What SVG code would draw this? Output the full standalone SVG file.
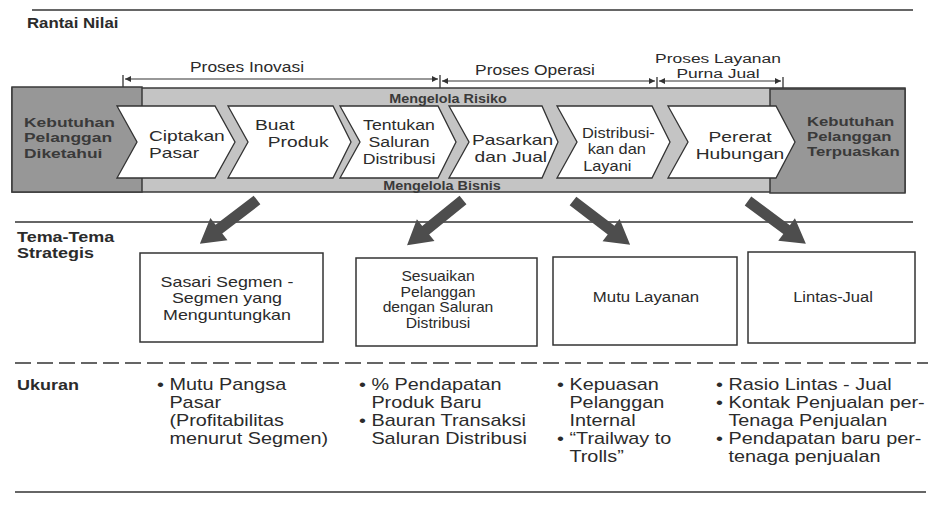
<svg xmlns="http://www.w3.org/2000/svg" xmlns:xlink="http://www.w3.org/1999/xlink" width="935" height="518" viewBox="0 0 935 518">
<style>
.t{font-family:"Liberation Sans",Arial,Helvetica,sans-serif;fill:#2b2b2b}
.b{font-weight:bold}
.c{text-anchor:middle}
.hd{font-size:14.5px}
.kb{font-size:13.5px;fill:#3a3a3a}
.ch{font-size:15px}
.sp{font-size:14.5px}
.mg{font-size:12px;fill:#3a3a3a}
.bx{font-size:14.5px}
.bl{font-size:16px}
.band{fill:#c4c4c4;stroke:#3a3a3a;stroke-width:1.5}
.dark{fill:#979797;stroke:#3a3a3a;stroke-width:1.5}
.chev{fill:#fff;stroke:#333;stroke-width:1.3;stroke-linejoin:miter}
.box{fill:#fff;stroke:#333;stroke-width:1.5}
.rule{stroke:#333;stroke-width:1.5;fill:none}
.dash{stroke:#333;stroke-width:1.5;stroke-dasharray:16 6;fill:none}
.span{stroke:#333;stroke-width:1.2;fill:none;marker-start:url(#ah);marker-end:url(#ah)}
.tick{stroke:#333;stroke-width:1.3}
.big{fill:#4d4d4d}
</style>
<defs>
<marker id="ah" viewBox="0 0 10 10" refX="10" refY="5" markerWidth="9" markerHeight="6" markerUnits="userSpaceOnUse" orient="auto-start-reverse">
<path d="M0,0 L10,5 L0,10 Z" fill="#333"/>
</marker>
<path id="bigArrow" d="M0,-5.5 L48,-5.5 L48,-14 L72,0 L48,14 L48,5.5 L0,5.5 Z"/>
</defs>

<!-- rules -->
<g id="rules">
<line class="rule" x1="32" y1="10" x2="913" y2="10"/>
<line class="rule" x1="15" y1="222" x2="913" y2="222"/>
<line class="dash" x1="15" y1="363" x2="928" y2="363"/>
<line class="rule" x1="15" y1="492" x2="926" y2="492"/>
</g>

<!-- headings -->
<g id="heading-rantai">
<text class="t b" transform="matrix(1.2 0 0 1 27 28)" style="font-size:14px">Rantai Nilai</text>
</g>
<g id="heading-tema">
<text class="t b hd" transform="matrix(1.24 0 0 1 17 242)"><tspan x="0">Tema-Tema</tspan><tspan x="0" dy="16.5">Strategis</tspan></text>
</g>
<g id="heading-ukuran">
<text class="t b hd" transform="matrix(1.24 0 0 1 17 390)">Ukuran</text>
</g>

<!-- process spans -->
<g id="spans">
<line class="tick" x1="123" y1="75" x2="123" y2="87"/>
<line class="tick" x1="440" y1="75" x2="440" y2="89"/>
<line class="tick" x1="657" y1="77" x2="657" y2="92"/>
<line class="tick" x1="783" y1="77" x2="783" y2="92"/>
<line class="span" x1="125" y1="79" x2="438" y2="79"/>
<line class="span" x1="442" y1="81" x2="655" y2="81"/>
<line class="span" x1="659" y1="81" x2="781" y2="81"/>
<text class="t c sp" transform="matrix(1.2 0 0 1 247 72)">Proses Inovasi</text>
<text class="t c sp" transform="matrix(1.2 0 0 1 535 75)">Proses Operasi</text>
<text class="t c" transform="matrix(1.29 0 0 1 718 62.5)" style="font-size:13.5px"><tspan x="0">Proses Layanan</tspan><tspan x="0" dy="15.3">Purna Jual</tspan></text>
</g>

<!-- value chain band -->
<g id="band">
<rect class="band" x="12" y="88" width="893" height="104"/>
<rect class="dark" x="12" y="87" width="130" height="105"/>
<rect class="dark" x="770" y="89" width="135" height="104"/>
<text class="t b c mg" transform="matrix(1.2 0 0 1 448 103)">Mengelola Risiko</text>
<text class="t b c mg" transform="matrix(1.2 0 0 1 442 190)">Mengelola Bisnis</text>
</g>

<g id="node-kebutuhan-diketahui">
<text class="t b kb" transform="matrix(1.29 0 0 1 24 127)"><tspan x="0">Kebutuhan</tspan><tspan x="0" dy="15.3">Pelanggan</tspan><tspan x="0" dy="15.3">Diketahui</tspan></text>
</g>

<g id="node-ciptakan-pasar">
<polygon class="chev" points="117,106 215,106 235,142 215,178 117,178 137,142"/>
<text class="t ch" transform="matrix(1.28 0 0 1 149 141)"><tspan x="0">Ciptakan</tspan><tspan x="0" dy="17.2">Pasar</tspan></text>
</g>

<g id="node-buat-produk">
<polygon class="chev" points="228,106 333,106 351,142 333,178 228,178 248,142"/>
<text class="t ch" transform="matrix(1.28 0 0 1 255 130)"><tspan x="0">Buat</tspan><tspan x="10" dy="17.2">Produk</tspan></text>
</g>

<g id="node-tentukan-saluran">
<polygon class="chev" points="340,106 438,106 456,142 438,178 340,178 360,142"/>
<text class="t c ch" transform="matrix(1.18 0 0 1 399 130)"><tspan x="0">Tentukan</tspan><tspan x="0" dy="17.2">Saluran</tspan><tspan x="0" dy="17.2">Distribusi</tspan></text>
</g>

<g id="node-pasarkan-jual">
<polygon class="chev" points="449,106 542,106 558,142 542,178 449,178 469,142"/>
<text class="t ch" transform="matrix(1.28 0 0 1 472 145)"><tspan x="0">Pasarkan</tspan><tspan x="2" dy="17.2">dan Jual</tspan></text>
</g>

<g id="node-distribusikan-layani">
<polygon class="chev" points="557,106 652,106 670,142 652,178 557,178 577,142"/>
<text class="t" transform="matrix(1.13 0 0 1 582 138)" style="font-size:14.5px"><tspan x="0">Distribusi-</tspan><tspan x="5" dy="16.5">kan dan</tspan><tspan x="1" dy="16.5">Layani</tspan></text>
</g>

<g id="node-pererat-hubungan">
<polygon class="chev" points="668,106 776,106 795,142 776,178 668,178 688,142"/>
<text class="t c ch" transform="matrix(1.28 0 0 1 740 142)"><tspan x="0">Pererat</tspan><tspan x="0" dy="17.2">Hubungan</tspan></text>
</g>

<g id="node-kebutuhan-terpuaskan">
<text class="t b kb" transform="matrix(1.24 0 0 1 807 126)"><tspan x="0">Kebutuhan</tspan><tspan x="0" dy="15.2">Pelanggan</tspan><tspan x="0" dy="15.2">Terpuaskan</tspan></text>
</g>

<!-- strategic theme boxes -->
<g id="node-sasari-segmen">
<rect class="box" x="140" y="253" width="183" height="89"/>
<text class="t c bx" transform="matrix(1.23 0 0 1 227 287)"><tspan x="0">Sasari Segmen -</tspan><tspan x="0" dy="16.3">Segmen yang</tspan><tspan x="0" dy="16.3">Menguntungkan</tspan></text>
</g>
<g id="node-sesuaikan-pelanggan">
<rect class="box" x="356" y="258" width="181" height="88"/>
<text class="t c" transform="matrix(1.12 0 0 1 438 281)" style="font-size:14px"><tspan x="0">Sesuaikan</tspan><tspan x="0" dy="15.7">Pelanggan</tspan><tspan x="0" dy="15.7">dengan Saluran</tspan><tspan x="0" dy="15.7">Distribusi</tspan></text>
</g>
<g id="node-mutu-layanan">
<rect class="box" x="553" y="257" width="184" height="88"/>
<text class="t c" transform="matrix(1.12 0 0 1 646 302)" style="font-size:15px">Mutu Layanan</text>
</g>
<g id="node-lintas-jual">
<rect class="box" x="748" y="252" width="167" height="91"/>
<text class="t c" transform="matrix(1.1 0 0 1 833 302)" style="font-size:15px">Lintas-Jual</text>
</g>

<!-- connectors: block arrows from chain to themes -->
<g id="connectors">
<use xlink:href="#bigArrow" class="big" transform="translate(257,200) rotate(142.5)"/>
<use xlink:href="#bigArrow" class="big" transform="translate(463,200) rotate(141)"/>
<use xlink:href="#bigArrow" class="big" transform="translate(573,201) rotate(37.5)"/>
<use xlink:href="#bigArrow" class="big" transform="translate(748,201) rotate(36.5)"/>
</g>

<!-- measures -->
<g id="measure-1">
<text class="t bl" transform="matrix(1.24 0 0 1 157 390)"><tspan x="0">• Mutu Pangsa</tspan><tspan x="10" dy="18">Pasar</tspan><tspan x="10" dy="18">(Profitabilitas</tspan><tspan x="10" dy="18">menurut Segmen)</tspan></text>
</g>
<g id="measure-2">
<text class="t bl" transform="matrix(1.24 0 0 1 359 390)"><tspan x="0">• % Pendapatan</tspan><tspan x="10" dy="18">Produk Baru</tspan><tspan x="0" dy="18">• Bauran Transaksi</tspan><tspan x="10" dy="18">Saluran Distribusi</tspan></text>
</g>
<g id="measure-3">
<text class="t bl" transform="matrix(1.24 0 0 1 557 390)"><tspan x="0">• Kepuasan</tspan><tspan x="10" dy="18">Pelanggan</tspan><tspan x="10" dy="18">Internal</tspan><tspan x="0" dy="18">• “Trailway to</tspan><tspan x="10" dy="18">Trolls”</tspan></text>
</g>
<g id="measure-4">
<text class="t bl" transform="matrix(1.24 0 0 1 716 390)"><tspan x="0">• Rasio Lintas - Jual</tspan><tspan x="0" dy="18">• Kontak Penjualan per-</tspan><tspan x="10" dy="18">Tenaga Penjualan</tspan><tspan x="0" dy="18">• Pendapatan baru per-</tspan><tspan x="10" dy="18">tenaga penjualan</tspan></text>
</g>
</svg>
